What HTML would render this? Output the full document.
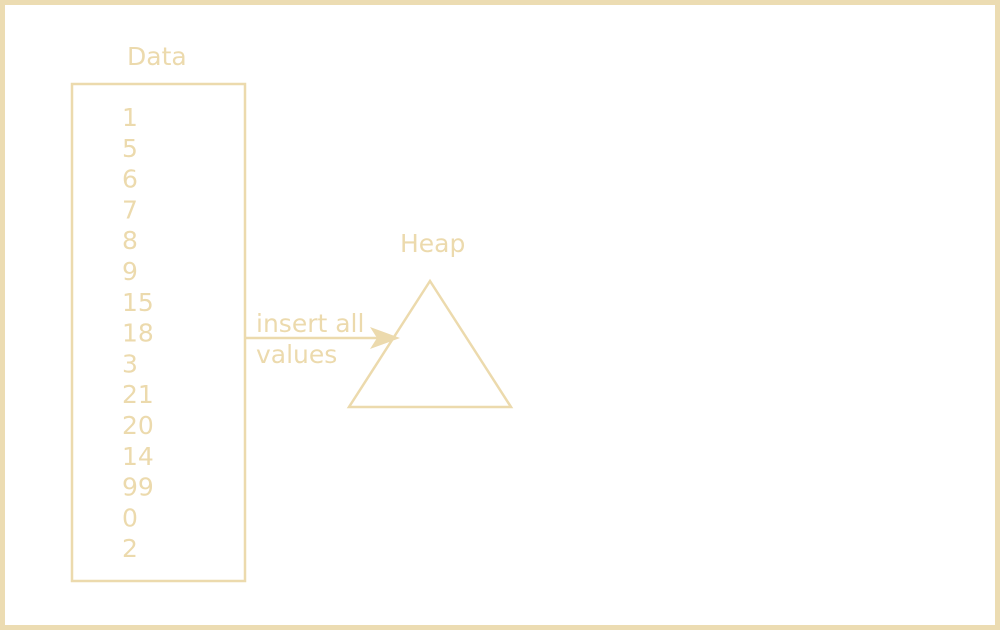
<!DOCTYPE html>
<html><head><meta charset="utf-8"><style>
html,body{margin:0;padding:0;background:#fff;}
svg{display:block;font-family:"DejaVu Sans","Liberation Sans",sans-serif;}
text{fill:#ecdaad;font-size:25px;}
</style></head><body>
<svg id="s" width="1000" height="630" viewBox="0 0 1000 630">
<rect x="2.5" y="2.5" width="995" height="625" fill="#fff" stroke="#ecdcb2" stroke-width="5"/>
<text x="127" y="65">Data</text>
<rect x="72" y="84" width="173" height="497" fill="none" stroke="#ecdaad" stroke-width="2.5"/>
<g id="vals"></g>
<line x1="245" y1="338" x2="380" y2="338" stroke="#ecdaad" stroke-width="2.5"/>
<polygon points="400,338 370,327 377,338 370,349" fill="#ecdaad"/>
<text x="256" y="332">insert all</text>
<text x="256" y="363">values</text>
<text x="400" y="252">Heap</text>
<polygon points="430,281 349,407 511,407" fill="none" stroke="#ecdaad" stroke-width="2.5"/>
</svg>
<script>
const values=[1,5,6,7,8,9,15,18,3,21,20,14,99,0,2];
const g=document.getElementById('vals');
values.forEach((v,i)=>{
  const t=document.createElementNS('http://www.w3.org/2000/svg','text');
  t.setAttribute('x',122);
  t.setAttribute('y',126+i*30.8);
  t.textContent=v;
  
  
  g.appendChild(t);
});
</script>
</body></html>
